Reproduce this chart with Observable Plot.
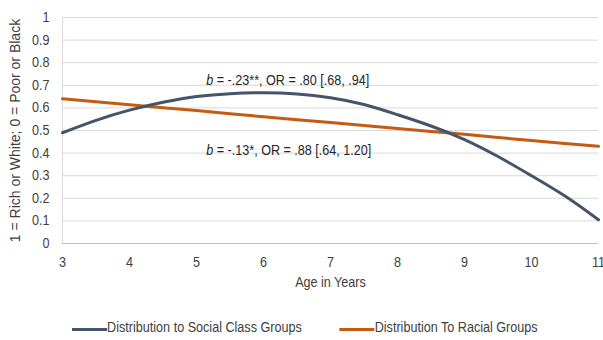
<!DOCTYPE html>
<html>
<head>
<meta charset="utf-8">
<script src="https://cdn.jsdelivr.net/npm/d3@7"></script>
<script src="https://cdn.jsdelivr.net/npm/@observablehq/plot@0.6"></script>
<style>
  html, body { margin: 0; padding: 0; background: #fff; }
  body { width: 603px; height: 340px; position: relative; overflow: hidden;
         font-family: "Liberation Sans", Arial, sans-serif; color: #404040; }
  #chart svg { display: block; }
  .legend { position: absolute; left: 72px; top: 319px; white-space: nowrap;
            display: flex; align-items: center; transform: scaleX(0.9); transform-origin: 0 0;
            font-size: 14px; line-height: 16px; color: #404040; }
  .legend .item { display: flex; align-items: center; }
  .legend .item + .item { margin-left: 42px; }
  .legend .swatch { width: 39px; height: 3px; position: relative; top: 2px; }
</style>
</head>
<body>
<div id="chart"></div>
<div class="legend" id="legend"></div>
<script>
// Predicted probability of choosing the rich/white recipient by child age
const ages = [3, 3.5, 4, 4.5, 5, 5.5, 6, 6.5, 7, 7.5, 8, 8.5, 9, 9.5, 10, 10.5, 11];
const socialClassValues = [0.49, 0.545, 0.59, 0.625, 0.65, 0.663, 0.667, 0.662, 0.645, 0.615, 0.57, 0.52, 0.46, 0.385, 0.30, 0.21, 0.105];
const racialValues = [0.64, 0.627, 0.614, 0.601, 0.588, 0.574, 0.561, 0.548, 0.535, 0.522, 0.509, 0.496, 0.483, 0.469, 0.456, 0.443, 0.43];

const seriesNames = ["Distribution to Social Class Groups", "Distribution To Racial Groups"];
const seriesColors = ["#44546a", "#c55a11"];

const xTicks = [3, 4, 5, 6, 7, 8, 9, 10, 11];
const yTicks = [0, 0.1, 0.2, 0.3, 0.4, 0.5, 0.6, 0.7, 0.8, 0.9, 1];

// Regression notes: italic "b" followed by the rest of the statistic
const noteX = [5.25, 5.25];
const noteY = [0.72, 0.41];
const noteRest = ["= -.23**, OR = .80 [.68, .94]", "= -.13*, OR = .88 [.64, 1.20]"];

const xTitle = "Age in Years";
const yTitle = "1 = Rich or White; 0 = Poor or Black";

const socialRows = ages.map((a, i) => ({age: a, value: socialClassValues[i]}));
const racialRows = ages.map((a, i) => ({age: a, value: racialValues[i]}));
const notes = noteX.map((x, i) => ({x, y: noteY[i], rest: noteRest[i]}));

const font = '"Liberation Sans", Arial, sans-serif';
const squeeze = 0.9; // horizontal text condensing

const chart = Plot.plot({
  width: 603,
  height: 300,
  marginLeft: 62,
  marginRight: 5,
  marginTop: 17,
  marginBottom: 57,
  style: {fontFamily: font, fontSize: "14px", color: "#404040", background: "#fff"},
  x: {domain: [3, 11]},
  y: {domain: [0, 1]},
  marks: [
    Plot.gridY(yTicks, {stroke: "#d9d9d9", strokeOpacity: 1, strokeWidth: 1}),
    Plot.ruleX([3], {stroke: "#d9d9d9", strokeWidth: 1}),
    Plot.ruleY([0], {stroke: "#bfbfbf", strokeWidth: 1}),
    Plot.axisY(yTicks, {tickSize: 0, tickPadding: 13, label: null, fontSize: 14,
      tickFormat: d => (d === 0 || d === 1) ? String(d) : d.toFixed(1), fill: "#404040"}),
    Plot.axisX(xTicks, {tickSize: 0, tickPadding: 14, label: null, fontSize: 14,
      tickFormat: d => String(d), fill: "#404040"}),
    Plot.text([xTitle], {frameAnchor: "bottom", dy: 43, fontSize: 14, fill: "#404040"}),
    Plot.text([yTitle], {frameAnchor: "left", textAnchor: "middle", dx: -47, rotate: -90, fontSize: 14, fill: "#404040"}),
    Plot.line(racialRows, {x: "age", y: "value", stroke: seriesColors[1], strokeWidth: 3}),
    Plot.line(socialRows, {x: "age", y: "value", stroke: seriesColors[0], strokeWidth: 3, curve: "natural"}),
    Plot.text(notes, {x: "x", y: "y", text: () => "b", fontStyle: "italic", textAnchor: "end", fill: "#262626", fontSize: 14}),
    Plot.text(notes, {x: "x", y: "y", text: "rest", textAnchor: "start", dx: 3.5, fill: "#262626", fontSize: 14})
  ]
});

// Condense the horizontal labels about their own anchors (the rotated title keeps its length)
chart.querySelectorAll("text").forEach(t => {
  if (t.textContent === yTitle) return;
  const x = +(t.getAttribute("x") || 0);
  const base = t.getAttribute("transform") || "";
  t.setAttribute("transform", `${base} translate(${x},0) scale(${squeeze},1) translate(${-x},0)`.trim());
});
document.getElementById("chart").append(chart);

const legend = document.getElementById("legend");
seriesNames.forEach((name, i) => {
  const item = document.createElement("div");
  item.className = "item";
  const sw = document.createElement("span");
  sw.className = "swatch";
  sw.style.background = seriesColors[i];
  const label = document.createElement("span");
  label.textContent = name;
  item.append(sw, label);
  legend.append(item);
});
</script>
</body>
</html>
